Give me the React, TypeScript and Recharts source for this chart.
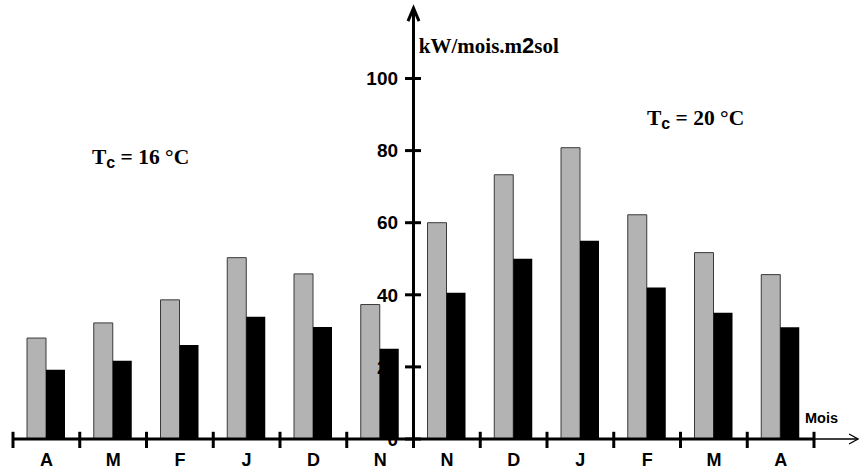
import { BarChart, Bar, XAxis, YAxis, ReferenceLine, ReferenceDot } from "recharts";

const mois = ["A", "M", "F", "J", "D", "N", "N", "D", "J", "F", "M", "A"];
const valeursGris = [28, 32.2, 38.6, 50.3, 45.8, 37.3, 60, 73.3, 80.8, 62.2, 51.7, 45.6];
const valeursNoir = [19.2, 21.7, 26.1, 33.9, 31.1, 25, 40.6, 50, 55, 42, 35, 31];
const yTicks = [0, 20, 40, 60, 80, 100];

// pos = centre de la catégorie sur l'axe numérique caché
const data = mois.map((m, i) => ({ mois: m, pos: i + 0.5, gris: valeursGris[i], noir: valeursNoir[i] }));
const bornes = Array.from({ length: mois.length + 1 }, (_, i) => i);

const SANS = "'Liberation Sans', Arial, sans-serif";
const SERIF = "'Liberation Serif', 'Times New Roman', serif";

function ArrowLine(props: any) {
  const { x1, y1, x2, y2, stroke, strokeWidth, headLen, headHalf } = props;
  const dx = x2 - x1;
  const dy = y2 - y1;
  const len = Math.hypot(dx, dy) || 1;
  const ux = dx / len;
  const uy = dy / len;
  const bx = x2 - ux * headLen;
  const by = y2 - uy * headLen;
  const px = -uy * headHalf;
  const py = ux * headHalf;
  return (
    <g>
      <line x1={x1} y1={y1} x2={x2} y2={y2} stroke={stroke} strokeWidth={strokeWidth} />
      <polyline
        points={`${bx + px},${by + py} ${x2},${y2} ${bx - px},${by - py}`}
        fill="none"
        stroke={stroke}
        strokeWidth={strokeWidth}
      />
    </g>
  );
}

function MoisTick(props: any) {
  const { x, y, payload } = props;
  return (
    <text x={x} y={y + 27} textAnchor="middle" fontFamily={SANS} fontWeight="bold" fontSize={18} fill="#000">
      {payload.value}
    </text>
  );
}

function Temperature(label: string) {
  return (p: any) => (
    <text x={p.cx} y={p.cy} fontFamily={SERIF} fontWeight="bold" fontSize={21.5} fill="#000">
      T
      <tspan fontFamily={SANS} fontSize={16} dy={4}>c</tspan>
      <tspan dy={-4}>{` = ${label} °C`}</tspan>
    </text>
  );
}

export default function App() {
  return (
    <div style={{ position: "absolute", left: 0, top: 0, background: "#fff" }}>
      <BarChart
        width={860}
        height={469}
        data={data}
        margin={{ top: 10, right: 46, bottom: 0, left: 13 }}
        barGap={0}
        barSize={19}
      >
        <XAxis
          xAxisId="cat"
          dataKey="mois"
          height={30}
          axisLine={false}
          tickLine={false}
          tickSize={0}
          tickMargin={0}
          interval={0}
          tick={<MoisTick />}
        />
        <XAxis xAxisId="num" dataKey="pos" type="number" domain={[0, 12]} hide allowDataOverflow />
        <YAxis hide domain={[0, 119]} allowDataOverflow />

        {yTicks.map((v) => (
          <ReferenceLine
            key={`yt-${v}`}
            xAxisId="num"
            ifOverflow="visible"
            segment={[
              { x: 5.873, y: v },
              { x: 6.112, y: v },
            ]}
            stroke="#000"
            strokeWidth={3}
            label={{
              value: String(v),
              position: "left",
              offset: 7,
              fill: "#000",
              fontSize: 19,
              fontWeight: "bold",
              fontFamily: SANS,
            }}
          />
        ))}

        <Bar xAxisId="cat" dataKey="gris" fill="#b3b3b3" stroke="#3a3a3a" strokeWidth={1} isAnimationActive={false} />
        <Bar xAxisId="cat" dataKey="noir" fill="#000" isAnimationActive={false} />

        <ReferenceLine
          xAxisId="num"
          ifOverflow="visible"
          segment={[
            { x: 0, y: 0 },
            { x: 12, y: 0 },
          ]}
          stroke="#000"
          strokeWidth={3}
        />
        <ReferenceLine
          xAxisId="num"
          ifOverflow="visible"
          segment={[
            { x: 12, y: 0 },
            { x: 12.66, y: 0 },
          ]}
          stroke="#000"
          strokeWidth={1.3}
          shape={(p: any) => <ArrowLine {...p} headLen={9} headHalf={5} />}
        />
        {bornes.map((i) => (
          <ReferenceLine
            key={`xt-${i}`}
            xAxisId="num"
            ifOverflow="visible"
            segment={[
              { x: i, y: 2 },
              { x: i, y: -2.5 },
            ]}
            stroke="#000"
            strokeWidth={3}
          />
        ))}
        <ReferenceLine
          xAxisId="num"
          ifOverflow="visible"
          segment={[
            { x: 6, y: 0 },
            { x: 6, y: 119.5 },
          ]}
          stroke="#000"
          strokeWidth={3}
          shape={(p: any) => <ArrowLine {...p} headLen={13} headHalf={5.5} />}
        />

        <ReferenceDot
          xAxisId="num"
          x={6.08}
          y={107.1}
          r={0}
          ifOverflow="visible"
          shape={(p: any) => (
            <text x={p.cx} y={p.cy} fontFamily={SERIF} fontWeight="bold" fontSize={21} fill="#000">
              kW/mois.m
              <tspan fontFamily={SANS} fontSize={22}>2</tspan>
              sol
            </text>
          )}
        />
        <ReferenceDot xAxisId="num" x={1.183} y={76.3} r={0} ifOverflow="visible" shape={Temperature("16")} />
        <ReferenceDot xAxisId="num" x={9.498} y={87.1} r={0} ifOverflow="visible" shape={Temperature("20")} />
        <ReferenceDot
          xAxisId="num"
          x={11.865}
          y={4.44}
          r={0}
          ifOverflow="visible"
          shape={(p: any) => (
            <text x={p.cx} y={p.cy} fontFamily={SANS} fontWeight="bold" fontSize={14.5} fill="#000">
              Mois
            </text>
          )}
        />
      </BarChart>
    </div>
  );
}
